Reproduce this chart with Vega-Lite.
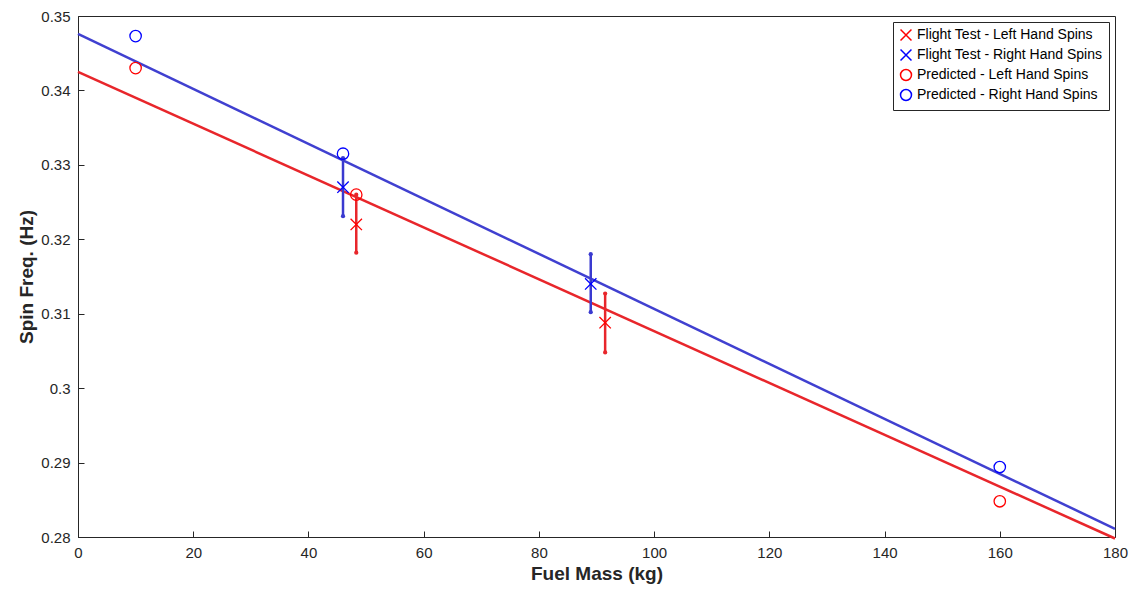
{
  "$schema": "https://vega.github.io/schema/vega-lite/v6.json",
  "width": 1037,
  "height": 521,
  "autosize": "none",
  "padding": {"left": 78, "top": 16, "right": 18, "bottom": 59},
  "background": "white",
  "config": {
    "view": {"stroke": "#262626", "strokeWidth": 1},
    "axis": {"grid": false, "domainColor": "#262626", "tickColor": "#262626", "tickSize": -6, "labelPadding": 14, "labelFontSize": 15, "labelColor": "#262626", "titleFontSize": 19, "titleFontWeight": "bold", "titleColor": "#262626", "labelFont": "Liberation Sans", "titleFont": "Liberation Sans", "labelFlush": false},
    "axisX": {"labelAlign": "center"}
  },
  "datasets": {
    "lines": [
      {"series": "left", "x": 0, "y": 0.3425},
      {"series": "left", "x": 180, "y": 0.2798},
      {"series": "right", "x": 0, "y": 0.3476},
      {"series": "right", "x": 180, "y": 0.2811}
    ],
    "points": [
      {"series": "Flight Test - Left Hand Spins", "side": "left", "x": 48.3, "y": 0.322, "lo": 0.3182, "hi": 0.326},
      {"series": "Flight Test - Left Hand Spins", "side": "left", "x": 91.5, "y": 0.3088, "lo": 0.3048, "hi": 0.3127},
      {"series": "Flight Test - Right Hand Spins", "side": "right", "x": 46, "y": 0.327, "lo": 0.3231, "hi": 0.3309},
      {"series": "Flight Test - Right Hand Spins", "side": "right", "x": 89, "y": 0.314, "lo": 0.3102, "hi": 0.318},
      {"series": "Predicted - Left Hand Spins", "side": "left", "x": 10, "y": 0.343},
      {"series": "Predicted - Left Hand Spins", "side": "left", "x": 48.3, "y": 0.326},
      {"series": "Predicted - Left Hand Spins", "side": "left", "x": 160, "y": 0.2848},
      {"series": "Predicted - Right Hand Spins", "side": "right", "x": 10, "y": 0.3473},
      {"series": "Predicted - Right Hand Spins", "side": "right", "x": 46, "y": 0.3315},
      {"series": "Predicted - Right Hand Spins", "side": "right", "x": 160, "y": 0.2894}
    ]
  },
  "layer": [
    {
      "data": {"name": "lines"},
      "transform": [{"filter": "datum.series == 'left'"}],
      "mark": {"type": "line", "strokeWidth": 2.5, "color": "#e8262b"},
      "encoding": {
        "x": {"field": "x", "type": "quantitative", "scale": {"domain": [0, 180]}, "axis": {"values": [0,20,40,60,80,100,120,140,160,180]}, "title": "Fuel Mass (kg)"},
        "y": {"field": "y", "type": "quantitative", "scale": {"domain": [0.28, 0.35]}, "axis": {"values": [0.28,0.29,0.3,0.31,0.32,0.33,0.34,0.35], "format": "~g"}, "title": "Spin Freq. (Hz)"}
      }
    },
    {
      "data": {"name": "lines"},
      "transform": [{"filter": "datum.series == 'right'"}],
      "mark": {"type": "line", "strokeWidth": 2.5, "color": "#4040d0"},
      "encoding": {
        "x": {"field": "x", "type": "quantitative"},
        "y": {"field": "y", "type": "quantitative"}
      }
    },
    {
      "data": {"name": "points"},
      "transform": [{"filter": "isValid(datum.lo) && datum.side == 'left'"}],
      "layer": [
        {"mark": {"type": "rule", "strokeWidth": 2.5, "color": "#e8262b"}, "encoding": {"x": {"field": "x", "type": "quantitative"}, "y": {"field": "lo", "type": "quantitative"}, "y2": {"field": "hi"}}},
        {"mark": {"type": "circle", "size": 18, "opacity": 1, "color": "#e8262b"}, "encoding": {"x": {"field": "x", "type": "quantitative"}, "y": {"field": "lo", "type": "quantitative"}}},
        {"mark": {"type": "circle", "size": 18, "opacity": 1, "color": "#e8262b"}, "encoding": {"x": {"field": "x", "type": "quantitative"}, "y": {"field": "hi", "type": "quantitative"}}}
      ]
    },
    {
      "data": {"name": "points"},
      "transform": [{"filter": "isValid(datum.lo) && datum.side == 'right'"}],
      "layer": [
        {"mark": {"type": "rule", "strokeWidth": 2.5, "color": "#3a3ad0"}, "encoding": {"x": {"field": "x", "type": "quantitative"}, "y": {"field": "lo", "type": "quantitative"}, "y2": {"field": "hi"}}},
        {"mark": {"type": "circle", "size": 18, "opacity": 1, "color": "#3a3ad0"}, "encoding": {"x": {"field": "x", "type": "quantitative"}, "y": {"field": "lo", "type": "quantitative"}}},
        {"mark": {"type": "circle", "size": 18, "opacity": 1, "color": "#3a3ad0"}, "encoding": {"x": {"field": "x", "type": "quantitative"}, "y": {"field": "hi", "type": "quantitative"}}}
      ]
    },
    {
      "data": {"name": "points"},
      "mark": {"type": "point", "filled": false, "strokeWidth": 1.3, "opacity": 1},
      "encoding": {
        "x": {"field": "x", "type": "quantitative"},
        "y": {"field": "y", "type": "quantitative"},
        "color": {"field": "series", "type": "nominal", "title": null, "scale": {"domain": ["Flight Test - Left Hand Spins", "Flight Test - Right Hand Spins", "Predicted - Left Hand Spins", "Predicted - Right Hand Spins"], "range": ["#ff0000", "#0000ff", "#ff0000", "#0000ff"]}, "legend": {"orient": "top-right", "offset": 6, "labelFontSize": 14, "labelColor": "#000", "labelFont": "Liberation Sans", "strokeColor": "#262626", "fillColor": "white", "padding": 6, "symbolSize": 120, "labelLimit": 300}},
        "shape": {"field": "series", "type": "nominal", "scale": {"domain": ["Flight Test - Left Hand Spins", "Flight Test - Right Hand Spins", "Predicted - Left Hand Spins", "Predicted - Right Hand Spins"], "range": ["M-1,-1L1,1M-1,1L1,-1", "M-1,-1L1,1M-1,1L1,-1", "circle", "circle"]}, "legend": {"orient": "top-right", "title": null}},
        "size": {"value": 130}
      }
    }
  ]
}
